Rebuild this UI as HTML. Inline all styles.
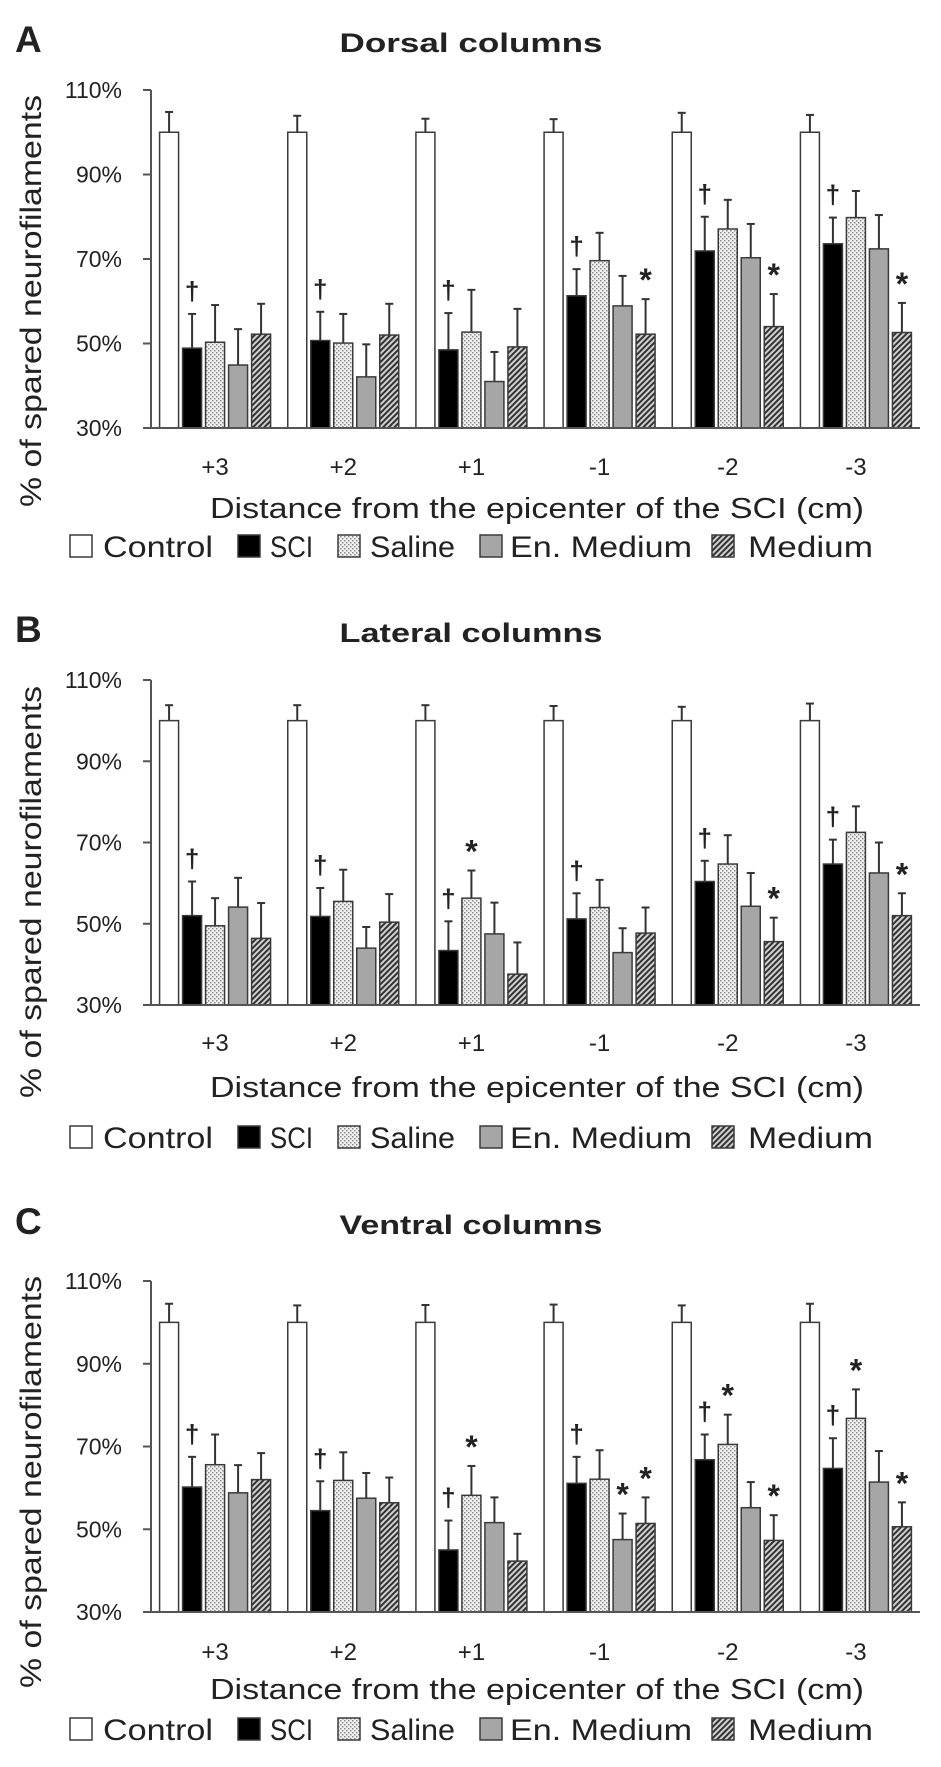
<!DOCTYPE html>
<html><head><meta charset="utf-8"><title>Spared neurofilaments</title>
<style>html,body{margin:0;padding:0;background:#fff}svg{display:block}text{font-family:"Liberation Sans",sans-serif;fill:#222}</style>
</head><body>
<svg id="fig" width="941" height="1767" viewBox="0 0 941 1767" xmlns="http://www.w3.org/2000/svg">
<defs>
<pattern id="dots" width="4" height="4" patternUnits="userSpaceOnUse"><rect width="4" height="4" fill="#f2f2f2"/><rect x="0" y="0" width="1.5" height="1.5" fill="#8a8a8a"/><rect x="2" y="2" width="1.5" height="1.5" fill="#8a8a8a"/></pattern>
<pattern id="hatch" width="4" height="4" patternUnits="userSpaceOnUse" patternTransform="rotate(45)"><rect width="4" height="4" fill="#d0d0d0"/><rect x="0" y="0" width="2" height="4" fill="#333"/></pattern>
</defs>
</svg>
<script>
const categories = ["+3","+2","+1","-1","-2","-3"];
const yTicks = [30,50,70,90,110];
const yTickLabels = ["30%","50%","70%","90%","110%"];
const seriesNames = ["Control","SCI","Saline","En. Medium","Medium"];

const dorsalControl = [100,100,100,100,100,100];
const dorsalSCI = [48.9,50.7,48.5,61.3,71.9,73.6];
const dorsalSaline = [50.3,50.1,52.7,69.6,77.1,79.8];
const dorsalEnMedium = [44.9,42.1,41.0,58.9,70.3,72.4];
const dorsalMedium = [52.2,52.0,49.2,52.2,54.0,52.6];
const dorsalControlErr = [4.8,3.9,3.2,3.1,4.6,4.1];
const dorsalSCIErr = [8.1,6.8,8.7,6.3,8.1,6.2];
const dorsalSalineErr = [8.8,6.9,10.0,6.6,6.9,6.3];
const dorsalEnMediumErr = [8.5,7.7,7.0,7.1,8.0,8.0];
const dorsalMediumErr = [7.2,7.4,9.0,8.3,7.7,7.0];
const dorsalMarks = [["†",1,0],["†",1,1],["†",1,2],["†",1,3],["*",4,3],["†",1,4],["*",4,4],["†",1,5],["*",4,5]];

const lateralControl = [100,100,100,100,100,100];
const lateralSCI = [52.0,51.8,43.4,51.2,60.4,64.7];
const lateralSaline = [49.5,55.5,56.3,54.0,64.7,72.5];
const lateralEnMedium = [54.1,44.0,47.5,42.9,54.3,62.5];
const lateralMedium = [46.4,50.4,37.6,47.7,45.6,52.0];
const lateralControlErr = [3.8,3.8,3.8,3.6,3.4,4.2];
const lateralSCIErr = [8.4,7.0,7.2,6.3,5.1,6.0];
const lateralSalineErr = [6.8,7.8,6.8,6.8,7.1,6.4];
const lateralEnMediumErr = [7.2,5.2,7.7,6.0,8.2,7.5];
const lateralMediumErr = [8.7,6.9,7.8,6.3,5.9,5.5];
const lateralMarks = [["†",1,0],["†",1,1],["†",1,2],["*",2,2],["†",1,3],["†",1,4],["*",4,4],["†",1,5],["*",4,5]];

const ventralControl = [100,100,100,100,100,100];
const ventralSCI = [60.2,54.5,45.0,61.1,66.8,64.7];
const ventralSaline = [65.6,61.8,58.2,62.1,70.5,76.8];
const ventralEnMedium = [58.8,57.5,51.6,47.5,55.2,61.4];
const ventralMedium = [62.0,56.4,42.3,51.4,47.3,50.6];
const ventralControlErr = [4.5,4.1,4.2,4.3,4.1,4.5];
const ventralSCIErr = [7.3,7.1,7.1,6.4,6.1,7.3];
const ventralSalineErr = [7.3,6.8,7.1,7.0,7.2,7.0];
const ventralEnMediumErr = [6.7,6.1,6.1,6.3,6.2,7.5];
const ventralMediumErr = [6.4,6.1,6.6,6.3,6.1,5.9];
const ventralMarks = [["†",1,0],["†",1,1],["†",1,2],["*",2,2],["†",1,3],["*",3,3],["*",4,3],["†",1,4],["*",2,4],["*",4,4],["†",1,5],["*",2,5],["*",4,5]];

const panels = [
 {key:"dorsal",letter:"A",title:"Dorsal columns",top:90,bottom:428,titleY:52,tickY:475,xTitleY:518,legY:546,yTitleC:301,
  vals:[dorsalControl,dorsalSCI,dorsalSaline,dorsalEnMedium,dorsalMedium],
  errs:[dorsalControlErr,dorsalSCIErr,dorsalSalineErr,dorsalEnMediumErr,dorsalMediumErr],marks:dorsalMarks},
 {key:"lateral",letter:"B",title:"Lateral columns",top:680,bottom:1005,titleY:642,tickY:1051,xTitleY:1097,legY:1137,yTitleC:892,
  vals:[lateralControl,lateralSCI,lateralSaline,lateralEnMedium,lateralMedium],
  errs:[lateralControlErr,lateralSCIErr,lateralSalineErr,lateralEnMediumErr,lateralMediumErr],marks:lateralMarks},
 {key:"ventral",letter:"C",title:"Ventral columns",top:1281,bottom:1612,titleY:1234,tickY:1660,xTitleY:1699,legY:1729,yTitleC:1482,
  vals:[ventralControl,ventralSCI,ventralSaline,ventralEnMedium,ventralMedium],
  errs:[ventralControlErr,ventralSCIErr,ventralSalineErr,ventralEnMediumErr,ventralMediumErr],marks:ventralMarks}
];

const fills = ["#ffffff","#000000","url(#dots)","#a6a6a6","url(#hatch)"];
const svg = document.getElementById("fig");
const NS = "http://www.w3.org/2000/svg";
function mk(tag, attrs, parent){const e=document.createElementNS(NS,tag);for(const k in attrs)e.setAttribute(k,attrs[k]);(parent||svg).appendChild(e);return e;}
const X0=151, X1=920, BW=19, BP=23;
const gp=(X1-X0)/categories.length;
function groupX(i){return X0+i*gp;}
function barX(g,s){return groupX(g)+(gp-(4*BP+BW))/2+s*BP;}

const legX=[70,238,338,480,712], legTX=[103,270,370,510,748], legTW=[110,43,85,182,125];

panels.forEach(p=>{
  const yScale=v=>p.bottom-(v-30)*(p.bottom-p.top)/80;
  const g=mk("g",{});
  
  
  const L=mk("text",{x:15,y:p.titleY,"font-size":37,"font-weight":"bold"},g);L.textContent=p.letter;
  
  
  const T=mk("text",{x:471,y:p.titleY,"font-size":27,"font-weight":"bold","text-anchor":"middle",textLength:263,lengthAdjust:"spacingAndGlyphs"},g);T.textContent=p.title;
  
  
  const YT=mk("text",{x:0,y:0,"font-size":30,"text-anchor":"middle",textLength:412,lengthAdjust:"spacingAndGlyphs",transform:`translate(41,${p.yTitleC}) rotate(-90)`},g);YT.textContent="% of spared neurofilaments";
  
  
  p.vals.forEach((arr,s)=>{
    arr.forEach((v,i)=>{
      const x=barX(i,s), y=yScale(v), e=yScale(v+p.errs[s][i]);
      const ln=mk("line",{x1:x+BW/2,x2:x+BW/2,y1:y,y2:e,stroke:"#333","stroke-width":2},g);
      
      
      const cp=mk("line",{x1:x+BW/2-4,x2:x+BW/2+4,y1:e,y2:e,stroke:"#333","stroke-width":2},g);
      
      
      const r=mk("rect",{x:x,y:y,width:BW,height:p.bottom-y,fill:fills[s],stroke:"#3a3a3a","stroke-width":1.5},g);
      
      
    });
  });
  p.marks.forEach(m=>{
    const s=m[1], i=m[2];
    const e=yScale(p.vals[s][i]+p.errs[s][i]);
    const t=mk("text",{x:barX(i,s)+BW/2,y:m[0]==="*"?e-8:e-14,"font-size":m[0]==="*"?32:26,"font-weight":"bold","text-anchor":"middle"},g);
    t.textContent=m[0];
    
    
  });
  const ya=mk("line",{x1:X0,x2:X0,y1:p.top,y2:p.bottom,stroke:"#555","stroke-width":2},g);
  
  
  const xa=mk("line",{x1:X0-8,x2:X1,y1:p.bottom,y2:p.bottom,stroke:"#555","stroke-width":2},g);
  
  
  yTicks.forEach((v,k)=>{
    const y=yScale(v);
    const tk=mk("line",{x1:X0-8,x2:X0,y1:y,y2:y,stroke:"#555","stroke-width":2},g);
    
    
    const tl=mk("text",{x:122,y:y+8,"font-size":23,"text-anchor":"end",fill:"#2a2a2a"},g);tl.textContent=yTickLabels[k];
    
    
  });
  categories.forEach((c,i)=>{
    const tl=mk("text",{x:groupX(i)+gp/2,y:p.tickY,"font-size":24,"text-anchor":"middle"},g);tl.textContent=c;
    
    
  });
  const XT=mk("text",{x:537,y:p.xTitleY,"font-size":29,"text-anchor":"middle",textLength:654,lengthAdjust:"spacingAndGlyphs"},g);XT.textContent="Distance from the epicenter of the SCI (cm)";
  
  
  seriesNames.forEach((n,s)=>{
    const lg=mk("g",{},g);
    
    
    mk("rect",{x:legX[s],y:p.legY-11,width:22,height:22,fill:fills[s],stroke:"#3a3a3a","stroke-width":1.5},lg);
    const lt=mk("text",{x:legTX[s],y:p.legY+11,"font-size":30,textLength:legTW[s],lengthAdjust:"spacingAndGlyphs"},lg);lt.textContent=n;
  });
});
</script>
</body></html>
